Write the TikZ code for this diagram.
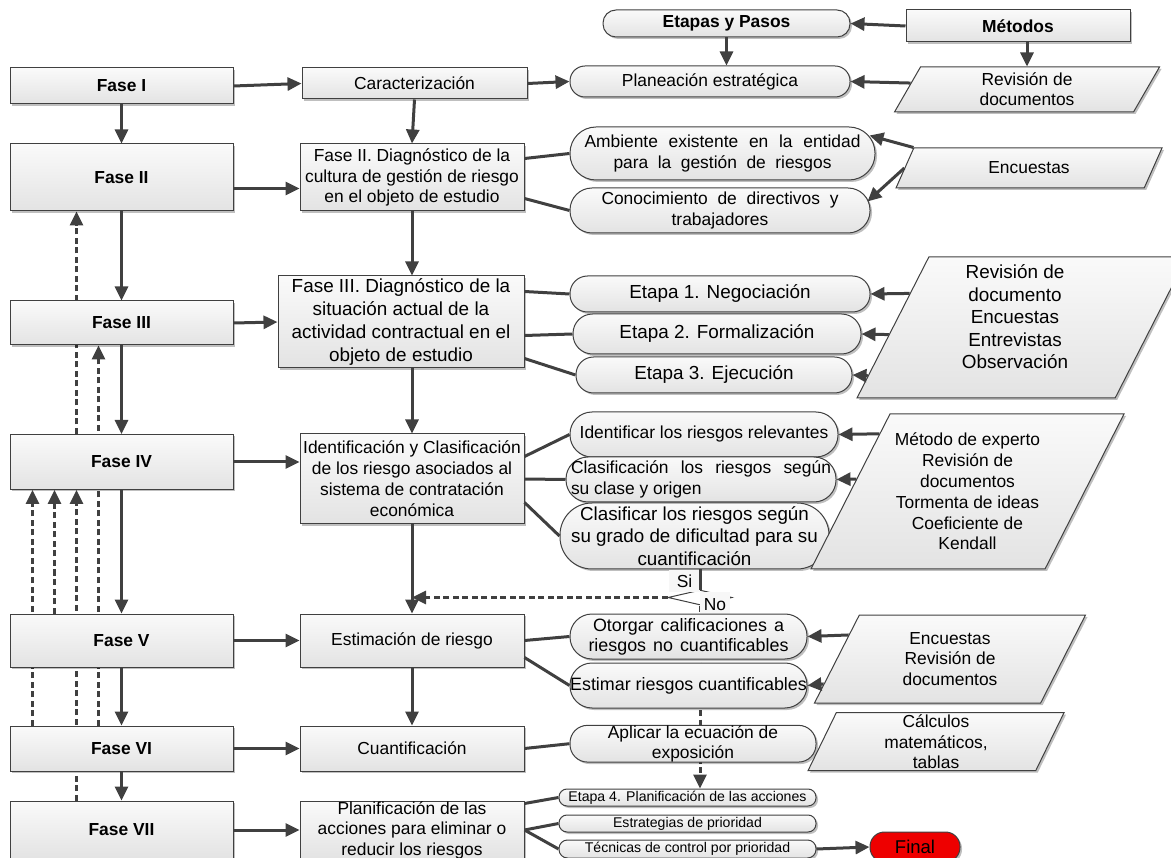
\documentclass[tikz,border=0pt]{standalone}
\usepackage{fontspec}
\setmainfont{Liberation Sans}
\usepackage{tikz}
\usetikzlibrary{arrows.meta}
\usetikzlibrary{calc}
\usetikzlibrary{shapes.geometric}
\usetikzlibrary{shadows}
\usetikzlibrary{backgrounds}

\definecolor{lc}{HTML}{404040}
\definecolor{finred}{HTML}{EE0000}
\newcommand{\fsz}[2]{\fontsize{#1pt}{#2pt}\selectfont}

\begin{document}
\begin{tikzpicture}[x=1pt, y=-1pt,
  bx/.style={draw=lc, line width=1pt, top color=gray!4, bottom color=gray!22,
    drop shadow={shadow xshift=2pt, shadow yshift=-2pt, fill=black, opacity=.25},
    inner sep=0pt, align=center, font=\fsz{17.4}{21}},
  faseb/.style={bx, minimum width=223pt, font=\bfseries\fsz{17.4}{21}},
  midb/.style={bx, minimum width=224pt},
  stadb/.style={bx, rounded corners=#1},
  parb/.style 2 args={bx, trapezium, trapezium left angle=#1, trapezium right angle=#2, trapezium stretches body},
  ptxt/.style={align=center, inner sep=0pt, font=\fsz{17.4}{20.5}},
  lbl/.style={fill=gray!6, inner sep=0pt, font=\fsz{17.4}{21}},
  conn/.style={draw=lc, line width=3pt},
  arr/.style={conn, -{Triangle[length=14pt,width=13pt]}},
  darr/.style={arr, dash pattern=on 6pt off 3.5pt}]
  \useasboundingbox (0,0) rectangle (1171,858);

  % fases
  \node[faseb, minimum height=36pt] (f1) at (121.5,86) {Fase I};
  \node[faseb, minimum height=67pt] (f2) at (121.5,177.5) {Fase II};
  \node[faseb, minimum height=44pt] (f3) at (121.5,323) {Fase III};
  \node[faseb, minimum height=55pt] (f4) at (121.5,462) {Fase IV};
  \node[faseb, minimum height=53pt] (f5) at (121.5,640.5) {Fase V};
  \node[faseb, minimum height=45pt] (f6) at (121.5,748.5) {Fase VI};
  \node[faseb, minimum height=58pt] (f7) at (121.5,830) {Fase VII};

  % contenido de cada fase
  \node[midb, minimum width=225pt, minimum height=31pt] (car) at (414.5,83.5) {Caracterización};
  \node[midb, minimum height=67pt, font=\fsz{17.4}{20.8}] (d2) at (412,177.5) {Fase II. Diagnóstico de la\\cultura de gestión de riesgo\\en el objeto de estudio};
  \node[midb, minimum width=246pt, minimum height=92pt, font=\fsz{18.9}{23}] (d3) at (401,322) {Fase III. Diagnóstico de la\\situación actual de la\\actividad contractual en el\\objeto de estudio};
  \node[midb, minimum height=90pt] (idc) at (412,479) {Identificación y Clasificación\\de los riesgo asociados al\\sistema de contratación\\económica};
  \node[midb, minimum height=53pt] (est) at (412,640.5) {Estimación de riesgo};
  \node[midb, minimum height=45pt] (cua) at (412,748.5) {Cuantificación};
  \node[midb, minimum height=58pt, font=\fsz{17.4}{20.5}] (pla) at (412,830) {Planificación de las\\acciones para eliminar o\\reducir los riesgos};

  % etapas y pasos, metodos
  \node[stadb=13pt, minimum width=247pt, minimum height=27pt, font=\bfseries\fsz{17.4}{21}] (ep) at (726.5,23.5) {Etapas y Pasos};
  \node[bx, minimum width=224pt, minimum height=32pt, font=\bfseries\fsz{17.4}{21}] (met) at (1018,26) {Métodos};
  \node[stadb=15pt, minimum width=280pt, minimum height=31pt] (pe) at (710,81.5) {Planeación estratégica};
  \node[parb={60}{120}, minimum width=265pt] (rd) at (1027,89.5) {\rule{0pt}{45pt}};
  \node[ptxt, font=\fsz{17.4}{20}] (rdt) at (rd.center) {Revisión de\\documentos};

  \node[stadb=26pt, minimum width=305pt, minimum height=53pt, font=\fsz{17.4}{20.5}] (amb) at (722.5,153.5) {\makebox[276pt][s]{Ambiente existente en la entidad}\\\makebox[218pt][s]{para la gestión de riesgos}};
  \node[stadb=22pt, minimum width=300pt, minimum height=45pt] (con) at (720,210.5) {\makebox[237pt][s]{Conocimiento de directivos y}\\trabajadores};
  \node[parb={66}{114}, minimum width=266pt] (enc) at (1029,168) {\rule{0pt}{40pt}};
  \node[ptxt] (enct) at (enc.center) {Encuestas};

  \node[stadb=17.5pt, minimum width=300pt, minimum height=36pt, font=\fsz{18.9}{23}] (e1) at (720,294) {Etapa 1. Negociación};
  \node[stadb=19.5pt, minimum width=288pt, minimum height=40pt, font=\fsz{18.9}{23}] (e2) at (717,334) {Etapa 2. Formalización};
  \node[stadb=17.5pt, minimum width=276pt, minimum height=36pt, font=\fsz{18.9}{23}] (e3) at (714,375) {Etapa 3. Ejecución};
  \node[parb={63}{117}, minimum width=330pt] (bp) at (1022,327.5) {\rule{0pt}{141pt}};
  \node[ptxt, font=\fsz{18.9}{22.5}] (bpt) at (1015,316.7) {Revisión de\\documento\\Encuestas\\Entrevistas\\Observación};

  \node[stadb=22pt, minimum width=268pt, minimum height=45pt] (ir) at (704,434.5) {Identificar los riesgos relevantes};
  \node[stadb=22pt, minimum width=270pt, minimum height=45pt, align=left] (cl) at (701,479.5) {\makebox[260pt][s]{Clasificación los riesgos según}\\su clase y origen};
  \node[stadb=32pt, minimum width=269pt, minimum height=66pt, font=\fsz{18.8}{22.5}] (cf) at (694.5,536) {Clasificar los riesgos según\\su grado de dificultad para su\\cuantificación};
  \node[parb={63}{117}, minimum width=313pt] (mp) at (967.5,491.5) {\rule{0pt}{155pt}};
  \node[ptxt, font=\fsz{17.4}{20.8}] (mpt) at (mp.center) {Método de experto\\Revisión de\\documentos\\Tormenta de ideas\\Coeficiente de\\Kendall};

  % decision
  \node[diamond, draw=lc, line width=1pt, fill=white, aspect=4.3, minimum width=64pt, minimum height=15pt, inner sep=0pt] (dc) at (700,597.5) {};
  \node[lbl, minimum width=31pt, minimum height=22pt] (si) at (684.5,581) {Si};
  \node[lbl, minimum width=30pt, minimum height=25pt] (no) at (715,604.5) {No};

  \node[stadb=22pt, minimum width=237pt, minimum height=45pt, font=\fsz{17.9}{20}] (ot) at (688.5,636.5) {\makebox[191pt][s]{Otorgar calificaciones a}\\\makebox[200pt][s]{riesgos no cuantificables}};
  \node[stadb=22pt, minimum width=237pt, minimum height=45pt, font=\fsz{17.9}{20}] (es) at (688.5,685.5) {Estimar riesgos cuantificables};
  \node[parb={63}{117}, minimum width=271pt] (enc2) at (950,659) {\rule{0pt}{88pt}};
  \node[ptxt] (enc2t) at (enc2.center) {Encuestas\\Revisión de\\documentos};

  \node[stadb=17.5pt, minimum width=246pt, minimum height=36pt, font=\fsz{17.4}{20.3}] (ap) at (693,743.7) {Aplicar la ecuación de\\exposición};
  \node[parb={64}{116}, minimum width=256pt] (cm) at (936,741.7) {\rule{0pt}{58pt}};
  \node[ptxt] (cmt) at (cm.center) {Cálculos\\matemáticos,\\tablas};

  \node[stadb=8pt, minimum width=257pt, minimum height=17pt, font=\fsz{14.1}{17}] (s4) at (687.5,797.5) {Etapa 4. Planificación de las acciones};
  \node[stadb=8pt, minimum width=257pt, minimum height=17pt, font=\fsz{14.1}{17}] (s5) at (687.5,823.5) {Estrategias de prioridad};
  \node[stadb=8.5pt, minimum width=257pt, minimum height=18pt, font=\fsz{14.1}{17}] (s6) at (687.5,849) {Técnicas de control por prioridad};
  \node[stadb=14.5pt, top color=finred, bottom color=finred, minimum width=90pt, minimum height=30pt, font=\fsz{18.5}{21}] (fin) at (915,847) {Final};

  % flujo principal
  \draw[arr] (f1.south) -- (f2.north);
  \draw[arr] (f2.south) -- (f3.north);
  \draw[arr] (f3.south) -- (f4.north);
  \draw[arr] (f4.south) -- (f5.north);
  \draw[arr] (f5.south) -- (f6.north);
  \draw[arr] (f6.south) -- (f7.north);

  \draw[arr] (f1.east) -- (car.west);
  \draw[arr] ($(f2.east)+(0,11)$) -- ($(d2.west)+(0,11)$);
  \draw[arr] (f3.east) -- (d3.west);
  \draw[arr] (f4.east) -- (f4.east -| idc.west);
  \draw[arr] (f5.east) -- (est.west);
  \draw[arr] (f6.east) -- (cua.west);
  \draw[arr] (f7.east) -- (pla.west);

  \draw[arr] (car.south) -- (d2.north);
  \draw[arr] (d2.south) -- (d2.south |- d3.north);
  \draw[arr] (d3.south -| idc.north) -- (idc.north);
  \draw[arr] (idc.south) -- (est.north);
  \draw[arr] (est.south) -- (cua.north);

  \draw[arr] (met.west) -- (ep.east);
  \draw[arr] (ep.south) -- (ep.south |- pe.north);
  \draw[arr] (rd.north |- met.south) -- (rd.north);
  \draw[arr] (car.east) -- (pe.west);
  \draw[arr] ($(rd.bottom left corner)!0.64!(rd.top left corner)$) -- (pe.east);

  \draw[conn] ($(d2.north east)+(0,15)$) -- (amb.west);
  \draw[conn] ($(d2.south east)+(0,-13)$) -- (con.west);
  \draw[arr] (enc.top left corner) -- ($(amb.north east)+(-6,9)$);
  \draw[arr] ($(enc.bottom left corner)!0.5!(enc.top left corner)$) -- ($(con.north east)+(-3,14)$);

  \draw[conn] ($(d3.north east)+(0,16)$) -- (e1.west);
  \draw[conn] ($(d3.north east)+(0,60)$) -- (e2.west);
  \draw[conn] ($(d3.north east)+(0,83)$) -- (e3.west);
  \draw[arr] ($(bp.bottom left corner)!0.74!(bp.top left corner)$) -- (e1.east);
  \draw[arr] ($(bp.bottom left corner)!0.45!(bp.top left corner)$) -- (e2.east);
  \draw[arr] ($(bp.bottom left corner)!0.16!(bp.top left corner)$) -- (e3.east);

  \draw[conn] ($(idc.north east)+(0,23)$) -- (ir.west);
  \draw[conn] (idc.east) -- (cl.west);
  \draw[conn] ($(idc.south east)+(0,-22)$) -- (cf.west);
  \draw[arr] ($(mp.bottom left corner)!0.87!(mp.top left corner)$) -- (ir.east);
  \draw[arr] ($(mp.bottom left corner)!0.58!(mp.top left corner)$) -- (cl.east);

  \draw[conn] (dc.north |- cf.south) -- (dc.north);
  \draw[darr] (dc.west) -- (dc.west -| idc.south);

  \draw[conn] (est.east) -- (ot.west);
  \draw[conn] ($(est.south east)+(0,-10)$) -- (es.west);
  \draw[arr] ($(enc2.bottom left corner)!0.77!(enc2.top left corner)$) -- (ot.east);
  \draw[arr] ($(enc2.bottom left corner)!0.22!(enc2.top left corner)$) -- (es.east);

  \draw[conn] (cua.east) -- (ap.west);
  \draw[conn] ($(pla.north east)+(0,3)$) -- (s4.west);
  \draw[conn] (pla.east) -- (s5.west);
  \draw[conn] (pla.east) -- (s6.west);
  \draw[arr] (s6.east) -- (fin.west);

  % retornos (detras de las cajas)
  \begin{scope}[on background layer]
    \draw[darr] (dc.south) -- (dc.south |- s4.north);
    \draw[darr] ($(f4.north west)+(67,0)$) -- ($(f2.south west)+(67,0)$);
    \draw[darr] ($(f6.north west)+(89,0)$) -- ($(f3.south west)+(89,0)$);
    \draw[darr] ($(f6.north west)+(23,0)$) -- ($(f4.south west)+(23,0)$);
    \draw[darr] ($(f5.north west)+(45,0)$) -- ($(f4.south west)+(45,0)$);
    \draw[darr] ($(f7.north west)+(67,0)$) -- ($(f4.south west)+(67,0)$);
  \end{scope}
\end{tikzpicture}
\end{document}
